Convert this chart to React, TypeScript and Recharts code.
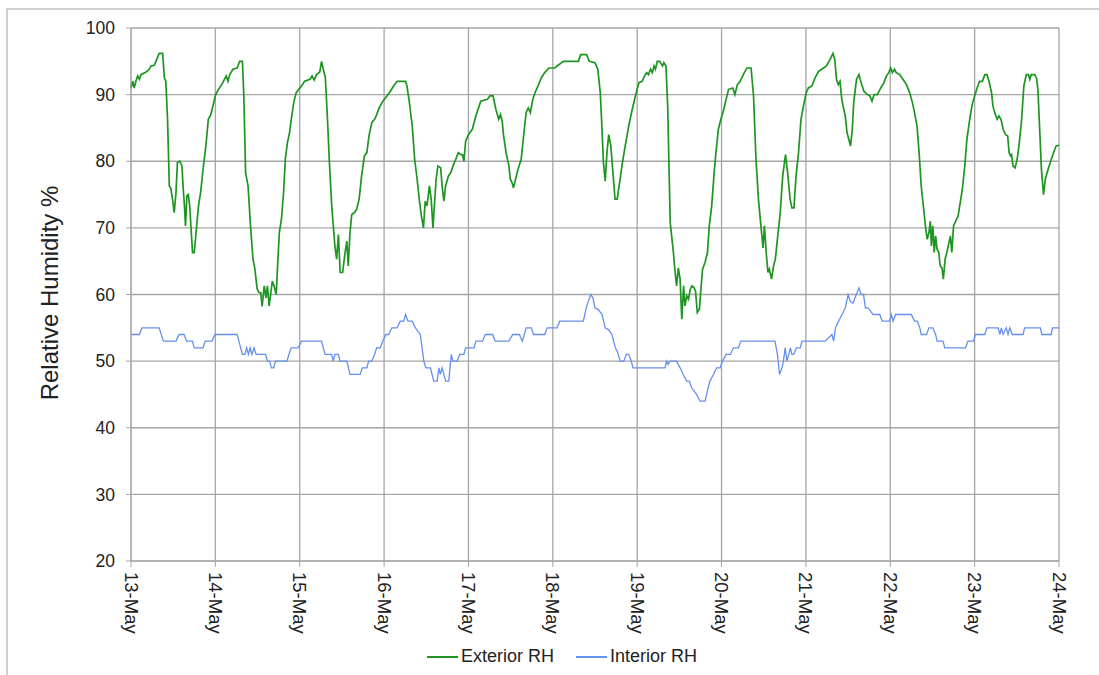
import React from 'react';
import { LineChart, Line, XAxis, YAxis, CartesianGrid, Label } from 'recharts';

// day labels on the x axis (one gridline per day, x measured in hours from 13-May 00:00)
const DAY_LABELS = ['13-May', '14-May', '15-May', '16-May', '17-May', '18-May', '19-May', '20-May', '21-May', '22-May', '23-May', '24-May'];
const DAY_TICKS = DAY_LABELS.map((_, i) => i * 24);
const RH_TICKS = [20, 30, 40, 50, 60, 70, 80, 90, 100];

// Exterior RH: hour, value
const EXT_HOURS = [
  0, 0.5, 0.9, 1.4, 1.9, 2.4, 2.8, 4.3, 5.2, 5.7, 6.6, 7.1, 8.0, 9.0, 9.5, 9.9, 10.4, 10.9, 11.3, 11.8,
  12.3, 12.8, 13.2, 13.9, 14.5, 14.8, 15.2, 15.5, 15.9, 16.3, 16.7, 17.1, 17.5, 18.0, 18.6, 19.2, 19.8, 20.5, 21.3, 22.0,
  22.7, 23.3, 24.1, 24.9, 25.8, 26.5, 27.1, 27.6, 28.1, 29.0, 30.2, 30.9, 31.7, 32.1, 32.6, 33.3, 34.0, 34.7, 35.2, 35.9,
  36.4, 36.9, 37.3, 37.9, 38.4, 38.8, 39.3, 39.8, 40.2, 40.7, 41.3, 41.8, 42.2, 42.8, 43.4, 43.9, 44.5, 45.1, 45.6, 46.3,
  47.0, 48.5, 49.4, 50.9, 51.5, 52.1, 52.8, 53.7, 54.2, 54.7, 55.3, 55.9, 56.4, 57.1, 57.7, 58.0, 58.5, 59.0, 59.5, 60.2,
  60.9, 61.4, 61.8, 62.3, 62.8, 63.6, 64.2, 64.9, 65.6, 66.4, 67.1, 67.7, 68.5, 69.3, 69.9, 70.6, 71.4, 72.1, 72.8, 73.8,
  74.7, 75.7, 78.1, 78.5, 79.2, 80.0, 80.7, 81.4, 82.0, 82.6, 83.2, 83.7, 84.2, 84.9, 85.4, 85.9, 86.3, 86.8, 87.3, 88.1,
  88.5, 89.0, 89.5, 90.3, 91.0, 91.6, 92.4, 93.1, 93.8, 94.3, 94.7, 95.2, 96.0, 97.1, 98.1, 99.5, 101.4, 102.1, 103.0, 103.8,
  104.6, 105.1, 105.6, 106.0, 106.7, 107.5, 107.9, 108.4, 108.8, 109.4, 110.1, 111.0, 111.7, 112.4, 113.0, 113.6, 114.3, 115.1, 115.8, 116.7,
  117.7, 118.9, 120.6, 121.2, 123.0, 127.3, 127.9, 129.6, 130.4, 132.0, 132.8, 133.5, 134.0, 134.4, 134.9, 135.4, 135.9, 136.5, 137.1, 137.7,
  138.3, 139.0, 139.8, 140.6, 141.6, 142.6, 143.5, 144.5, 145.4, 146.1, 146.7, 147.2, 147.8, 148.3, 148.8, 149.2, 149.7, 150.4, 151.2, 151.6,
  152.2, 152.7, 153.0, 153.4, 153.8, 154.3, 154.8, 155.2, 155.7, 156.2, 156.7, 157.2, 157.6, 158.1, 158.6, 159.1, 159.6, 160.2, 160.6, 161.1,
  161.7, 162.2, 162.6, 163.3, 164.0, 164.5, 165.2, 165.9, 166.4, 167.1, 167.8, 168.5, 169.3, 170.0, 171.2, 171.8, 172.5, 173.3, 174.2, 175.2,
  176.4, 177.1, 177.8, 178.5, 179.2, 179.8, 180.2, 180.7, 181.2, 181.6, 182.2, 182.8, 183.3, 183.9, 184.7, 185.4, 186.2, 186.8, 187.5, 188.0,
  188.6, 189.2, 189.9, 190.6, 191.3, 192.1, 192.7, 193.7, 194.6, 195.6, 197.0, 197.8, 198.9, 199.7, 200.2, 200.7, 201.2, 201.7, 202.2, 202.7,
  203.2, 203.7, 204.2, 204.7, 205.2, 205.6, 206.4, 207.1, 207.7, 208.5, 209.5, 210.2, 210.8, 211.4, 212.3, 213.3, 214.2, 214.9, 215.6, 216.1,
  216.6, 217.2, 217.7, 218.7, 219.6, 220.6, 221.5, 222.3, 222.9, 223.6, 224.2, 224.8, 225.5, 226.1, 226.5, 227.0, 227.4, 227.7, 228.1, 228.5,
  228.9, 229.3, 229.8, 230.2, 230.7, 231.1, 231.6, 232.1, 232.7, 233.1, 233.5, 234.0, 234.6, 235.3, 235.9, 236.5, 237.2, 237.8, 238.6, 239.3,
  240.0, 240.7, 241.4, 242.2, 242.9, 243.5, 244.1, 244.8, 245.2, 245.7, 246.4, 246.9, 247.5, 248.1, 248.8, 249.4, 249.8, 250.2, 250.5, 250.9,
  251.5, 252.1, 252.6, 253.3, 254.0, 254.7, 255.3, 255.7, 256.1, 257.1, 257.6, 258.0, 258.5, 259.0, 259.6, 260.1, 260.9, 261.8, 262.8, 263.2,
  264.0,
];
const EXT_RH = [
  91.0, 92.0, 91.0, 92.0, 92.8, 92.3, 93.0, 93.4, 93.8, 94.3, 94.4, 95.0, 96.2, 96.2, 92.5, 92.0, 86.3, 76.3, 76.0, 74.3,
  72.3, 75.3, 79.8, 80.0, 79.3, 76.3, 73.3, 70.3, 74.8, 75.0, 73.3, 69.8, 66.3, 66.3, 69.8, 73.3, 75.3, 78.8, 82.3, 86.3,
  87.0, 88.3, 90.0, 90.8, 91.5, 92.2, 92.8, 92.0, 93.0, 93.8, 94.0, 95.0, 95.0, 89.8, 78.3, 76.3, 70.3, 65.3, 64.0, 60.8,
  60.3, 60.3, 58.2, 61.3, 59.5, 61.3, 58.3, 60.3, 62.0, 61.3, 60.0, 65.3, 69.3, 71.3, 75.3, 80.3, 82.8, 84.3, 86.3, 88.8,
  90.3, 91.3, 92.0, 92.3, 92.8, 92.2, 93.0, 93.4, 95.0, 93.8, 92.5, 86.3, 80.3, 73.3, 69.3, 67.3, 65.3, 69.0, 63.3, 63.3,
  66.3, 68.0, 64.3, 69.3, 72.0, 72.3, 72.8, 74.3, 77.8, 80.8, 81.3, 83.8, 85.8, 86.3, 87.0, 88.0, 88.8, 89.3, 89.8, 90.5,
  91.3, 92.0, 92.0, 91.3, 88.8, 85.3, 80.3, 77.3, 74.3, 71.8, 70.0, 74.0, 73.3, 76.3, 74.3, 70.0, 73.3, 77.3, 79.3, 79.0,
  76.3, 74.0, 76.3, 77.8, 78.3, 79.3, 80.3, 81.3, 81.0, 81.0, 80.0, 83.0, 84.0, 84.8, 86.8, 89.0, 89.3, 89.8, 89.8, 87.8,
  86.3, 87.0, 86.0, 83.8, 81.3, 79.3, 77.3, 76.8, 76.0, 77.3, 78.8, 80.3, 83.8, 87.3, 88.0, 87.3, 89.3, 90.5, 91.3, 92.5,
  93.3, 94.0, 94.0, 94.3, 95.0, 95.0, 96.0, 96.0, 95.0, 94.8, 93.8, 90.3, 84.8, 79.8, 77.0, 81.3, 84.0, 82.3, 78.3, 74.3,
  74.3, 76.8, 79.8, 82.3, 85.3, 87.8, 89.8, 91.8, 92.0, 92.8, 93.3, 93.0, 93.8, 93.3, 94.3, 93.8, 95.0, 95.0, 94.3, 94.8,
  94.3, 88.0, 80.3, 70.8, 68.8, 66.3, 63.3, 61.3, 64.0, 62.3, 56.3, 61.3, 58.3, 59.8, 59.3, 60.8, 61.3, 61.0, 60.5, 57.3,
  57.8, 61.3, 63.8, 64.8, 66.3, 70.3, 73.3, 78.3, 81.3, 84.8, 86.3, 87.5, 89.3, 90.8, 91.0, 90.0, 91.5, 92.0, 93.0, 94.0,
  94.0, 89.8, 80.3, 74.3, 70.3, 67.0, 70.3, 66.3, 63.3, 63.8, 62.3, 64.3, 65.3, 68.3, 72.3, 77.8, 81.0, 78.3, 74.3, 73.0,
  73.0, 77.8, 81.3, 86.3, 88.3, 90.3, 91.0, 91.3, 92.5, 93.5, 94.0, 94.3, 95.3, 96.2, 95.3, 92.3, 91.5, 92.0, 89.3, 88.0,
  86.8, 84.3, 83.3, 82.3, 84.8, 88.8, 92.3, 93.0, 91.8, 90.5, 90.0, 89.8, 89.0, 90.0, 90.0, 91.0, 91.8, 92.8, 93.3, 94.0,
  93.3, 93.8, 93.3, 93.0, 92.3, 91.5, 90.3, 88.8, 87.3, 85.3, 81.3, 76.3, 72.8, 69.8, 68.3, 69.3, 71.0, 67.3, 70.3, 66.3,
  68.8, 66.8, 66.3, 64.3, 64.0, 62.3, 65.3, 66.3, 67.8, 68.8, 66.3, 70.3, 71.0, 71.8, 73.8, 75.8, 79.3, 83.3, 86.3, 88.5,
  89.8, 91.0, 92.0, 92.0, 93.0, 93.0, 92.0, 90.3, 88.3, 87.3, 86.3, 86.8, 86.3, 84.8, 84.0, 83.8, 81.3, 80.8, 81.0, 79.3,
  79.0, 80.3, 82.3, 85.8, 91.3, 93.0, 93.0, 92.3, 93.0, 93.0, 92.5, 90.8, 84.8, 78.8, 75.0, 77.3, 78.8, 80.3, 81.8, 82.3,
  82.4,
];

// Interior RH: hour, value
const INT_HOURS = [
  0, 2.4, 3.1, 8.0, 9.2, 12.8, 13.7, 15.1, 15.8, 17.5, 18.0, 20.5, 21.1, 23.0, 23.9, 30.2, 31.2, 31.7, 32.4, 32.9,
  33.4, 33.9, 34.4, 35.0, 35.6, 38.3, 38.8, 39.5, 39.9, 40.6, 41.1, 44.4, 44.9, 45.6, 47.5, 48.5, 54.2, 55.2, 57.1, 57.5,
  58.0, 59.0, 59.5, 61.4, 62.3, 65.2, 65.8, 67.1, 67.6, 68.5, 69.3, 69.9, 70.9, 71.6, 72.5, 73.3, 74.2, 75.7, 76.6, 77.6,
  78.1, 78.8, 80.0, 80.9, 82.3, 83.3, 83.9, 85.2, 86.1, 87.1, 87.6, 88.0, 88.5, 89.0, 89.5, 90.4, 91.1, 91.6, 92.8, 93.5,
  94.7, 95.2, 97.6, 98.1, 100.0, 100.8, 102.9, 103.6, 107.5, 108.6, 110.5, 111.3, 111.9, 112.4, 113.9, 114.5, 117.7, 118.4, 121.2, 122.0,
  128.7, 129.5, 130.1, 130.8, 131.4, 132.0, 133.0, 134.0, 134.9, 135.9, 136.8, 137.8, 138.3, 139.2, 140.2, 140.9, 141.6, 142.3, 142.8, 151.9,
  152.4, 152.8, 153.3, 155.2, 156.2, 157.1, 158.1, 158.8, 159.5, 160.9, 161.9, 163.3, 164.2, 164.7, 165.7, 166.6, 167.6, 168.3, 169.3, 170.5,
  171.4, 172.8, 173.5, 183.2, 183.9, 184.5, 185.2, 185.6, 186.1, 186.6, 187.1, 187.6, 188.0, 188.5, 189.3, 190.4, 190.9, 197.5, 199.4, 199.9,
  200.4, 201.3, 202.3, 203.2, 204.0, 204.6, 205.4, 206.1, 207.1, 207.7, 208.4, 208.9, 209.6, 210.1, 211.1, 213.0, 213.7, 215.8, 216.3, 216.8,
  217.5, 222.0, 222.9, 223.7, 224.4, 224.8, 226.3, 227.0, 228.1, 228.9, 229.3, 231.0, 231.5, 237.4, 238.1, 239.7, 240.2, 242.9, 243.5, 246.7,
  247.2, 247.6, 248.1, 249.0, 249.5, 250.0, 250.7, 253.8, 254.2, 258.7, 259.1, 261.8, 262.1, 264.0,
];
const INT_RH = [
  54, 54, 55, 55, 53, 53, 54, 54, 53, 53, 52, 52, 53, 53, 54, 54, 52, 51, 51, 52,
  51, 52, 51, 52, 51, 51, 50, 50, 49, 49, 50, 50, 51, 52, 52, 53, 53, 51, 51, 50,
  51, 51, 50, 50, 48, 48, 49, 49, 50, 50, 51, 52, 52, 53, 54, 54, 55, 55, 56, 56,
  57, 56, 56, 55, 54, 50, 49, 49, 47, 47, 49, 48, 49, 48, 47, 47, 51, 50, 50, 51,
  51, 52, 52, 53, 53, 54, 54, 53, 53, 54, 54, 53, 54, 55, 55, 54, 54, 55, 55, 56,
  56, 58, 59, 60, 59.5, 58, 57.7, 57, 55, 54.7, 54, 52, 51.5, 50, 50, 51, 51, 50, 49, 49,
  50, 49.5, 50, 50, 49, 48, 47, 47, 46, 45, 44, 44, 46, 47, 48, 49, 49, 50, 51, 51,
  52, 52, 53, 53, 51, 48, 49, 50, 52, 50, 51, 52, 51, 51, 52, 52, 53, 53, 54, 53,
  55, 56, 57, 58, 60, 59, 58.7, 59.7, 61, 60, 60, 58, 58, 57.7, 57, 57, 56, 56, 57, 56,
  57, 57, 56, 56, 55, 54, 54, 55, 55, 54, 53, 53, 52, 52, 53, 53, 54, 54, 55, 55,
  54, 55, 54, 55, 54, 55, 54, 54, 55, 55, 54, 54, 55, 55,
];

const exteriorData = EXT_HOURS.map((h, i) => ({ h, rh: EXT_RH[i] }));
const interiorData = INT_HOURS.map((h, i) => ({ h, rh: INT_RH[i] }));

const FONT = '"Liberation Sans", Arial, sans-serif';
const GRID = '#a6a6a6';

const DayTick = (props: any) => {
  const { x, y, payload } = props;
  return (
    <text
      x={x}
      y={y}
      transform={`rotate(90 ${x} ${y})`}
      textAnchor="start"
      dominantBaseline="central"
      fontSize={18.5}
      fontFamily={FONT}
      fill="#222"
    >
      {DAY_LABELS[Math.round(payload.value / 24)]}
    </text>
  );
};

const App: React.FC = () => {
  return (
    <div style={{ position: 'absolute', left: 0, top: 0, width: 1099, height: 675, background: '#fff', overflow: 'hidden' }}>
      {/* outer frame */}
      <div style={{ position: 'absolute', left: 6, top: 8, width: 1099, height: 675, borderLeft: '2px solid #cfcfcf', borderTop: '2px solid #cfcfcf' }} />

      <LineChart width={1099} height={675} data={exteriorData} margin={{ top: 28, right: 40, bottom: 0, left: 0 }} style={{ position: 'absolute', left: 0, top: 0 }}>
        <CartesianGrid stroke={GRID} strokeWidth={1.3} />
        <XAxis
          type="number"
          dataKey="h"
          domain={[0, 264]}
          ticks={DAY_TICKS}
          interval={0}
          height={114}
          stroke={GRID}
          tickSize={6}
          tickMargin={5}
          tick={<DayTick />}
        />
        <YAxis
          type="number"
          domain={[20, 100]}
          ticks={RH_TICKS}
          interval={0}
          width={131}
          stroke={GRID}
          tickSize={5}
          tickMargin={11}
          tick={{ fontSize: 17.5, fontFamily: FONT, fill: '#222' }}
        >
          <Label
            content={() => (
              <text
                x={49}
                y={293}
                transform="rotate(-90 49 293)"
                textAnchor="middle"
                dominantBaseline="central"
                fontSize={24}
                fontFamily={FONT}
                fill="#222"
              >
                Relative Humidity %
              </text>
            )}
          />
        </YAxis>
        <Line data={exteriorData} dataKey="rh" name="Exterior RH" type="linear" stroke="#1c9621" strokeWidth={1.7} dot={false} isAnimationActive={false} />
        <Line data={interiorData} dataKey="rh" name="Interior RH" type="linear" stroke="#6690ee" strokeWidth={1.3} dot={false} isAnimationActive={false} />
      </LineChart>

      {/* legend */}
      <div style={{ position: 'absolute', left: 427, top: 646, display: 'flex', alignItems: 'center', fontFamily: FONT, fontSize: 18, color: '#222' }}>
        <span style={{ display: 'inline-block', width: 31, height: 2, background: '#1c9621', marginRight: 3 }} />
        <span>Exterior RH</span>
        <span style={{ display: 'inline-block', width: 31, height: 2, background: '#6690ee', marginLeft: 22, marginRight: 3 }} />
        <span>Interior RH</span>
      </div>
    </div>
  );
};

export default App;
